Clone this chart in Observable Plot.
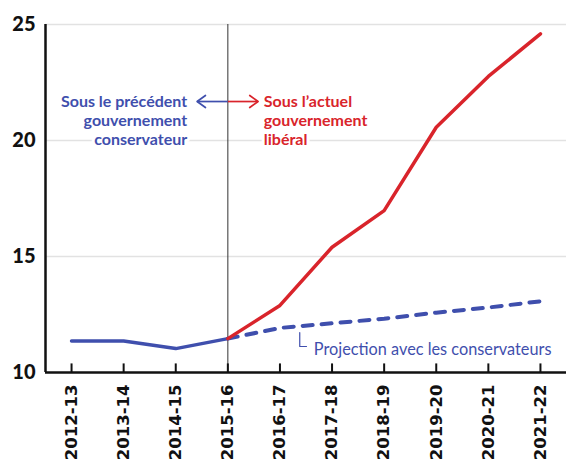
<!DOCTYPE html>
<html>
<head>
<meta charset="utf-8">
<script src="https://cdn.jsdelivr.net/npm/d3@7"></script>
<script src="https://cdn.jsdelivr.net/npm/@observablehq/plot@0.6"></script>
<style>
  html, body { margin: 0; padding: 0; background: #fff; }
  #chart { width: 566px; height: 466px; }
</style>
</head>
<body>
<div id="chart"></div>
<script>
// Categories (fiscal years)
const years = ["2012-13","2013-14","2014-15","2015-16","2016-17","2017-18","2018-19","2019-20","2020-21","2021-22"];
// Previous conservative government (actual), years 0..3
const conservativeIdx = [0, 1, 2, 3];
const conservativeValues = [11.36, 11.36, 11.03, 11.46];
// Current liberal government, years 3..9
const liberalIdx = [3, 4, 5, 6, 7, 8, 9];
const liberalValues = [11.46, 12.89, 15.4, 16.98, 20.57, 22.76, 24.6];
// Projection with conservatives, years 3..9
const projectionIdx = [3, 4, 5, 6, 7, 8, 9];
const projectionValues = [11.46, 11.92, 12.12, 12.32, 12.58, 12.8, 13.07];
// Y tick labels
const yTicks = [10, 15, 20, 25];
const gridTicks = [15, 20, 25];
// Annotation texts
const blueLines = ["Sous le précédent", "gouvernement", "conservateur"];
const redLines = ["Sous l\u2019actuel", "gouvernement", "libéral"];
const projLabel = "Projection avec les conservateurs";

const BLUE = "#3f4fad";
const RED = "#d9242b";

const cons = conservativeIdx.map((x, i) => ({x, y: conservativeValues[i]}));
const lib = liberalIdx.map((x, i) => ({x, y: liberalValues[i]}));
const proj = projectionIdx.map((x, i) => ({x, y: projectionValues[i]}));

// annotation anchors (data units)
const annY = [21.68, 20.86, 20.04];
const blueText = blueLines.map((t, i) => ({x: 2.22, y: annY[i], t}));
const redText = redLines.map((t, i) => ({x: 3.69, y: annY[i], t}));
const bracket = [{x: 4.38, y: 11.72}, {x: 4.38, y: 11.12}, {x: 4.51, y: 11.12}];
// arrow shafts and chevron heads (data units)
const blueShaft = [{x1: 3, x2: 2.41, y: 21.68}];
const redShaft = [{x1: 3, x2: 3.58, y: 21.68}];
const blueHead = [{x: 2.57, y: 21.94}, {x: 2.41, y: 21.68}, {x: 2.57, y: 21.42}];
const redHead = [{x: 3.42, y: 21.94}, {x: 3.58, y: 21.68}, {x: 3.42, y: 21.42}];

const chart = Plot.plot({
  width: 566,
  height: 466,
  marginLeft: 45,
  marginRight: 0,
  marginTop: 24,
  marginBottom: 94,
  style: {fontFamily: "Lato, 'Liberation Sans', sans-serif", background: "#fff"},
  x: {type: "linear", domain: [-0.5, 9.5]},
  y: {domain: [10, 25]},
  marks: [
    Plot.ruleY(gridTicks, {stroke: "#e2e2e2", strokeWidth: 1.5}),
    Plot.ruleX([3], {y1: 10, y2: 25, stroke: "#333", strokeWidth: 1}),
    // x tick marks pointing upward
    Plot.ruleX(d3.range(years.length), {y1: 10, y2: 10.37, stroke: "#111", strokeWidth: 2}),
    Plot.axisX({
      ticks: d3.range(years.length),
      tickFormat: i => years[i],
      tickSize: 0,
      tickPadding: 12,
      tickRotate: -90,
      fontSize: 16.5,
      fontWeight: "bold",
      fontFamily: "'DejaVu Sans', sans-serif",
      fill: "#111",
      label: null
    }),
    Plot.axisY({
      ticks: yTicks,
      tickSize: 0,
      tickPadding: 10,
      fontSize: 20,
      fontWeight: 900,
      fontFamily: "Lato, 'Liberation Sans', Arial, sans-serif",
      fill: "#111",
      label: null
    }),
    Plot.ruleX([-0.5], {y1: 10, y2: 25, stroke: "#111", strokeWidth: 2.5}),
    Plot.ruleY([10], {stroke: "#111", strokeWidth: 2.5}),
    // lines
    Plot.line(proj, {x: "x", y: "y", stroke: BLUE, strokeWidth: 4, strokeDasharray: "10,9", strokeLinecap: "round"}),
    Plot.line(cons, {x: "x", y: "y", stroke: BLUE, strokeWidth: 3.5}),
    Plot.line(lib, {x: "x", y: "y", stroke: RED, strokeWidth: 3.5}),
    // arrows
    Plot.link(blueShaft, {x1: "x1", x2: "x2", y1: "y", y2: "y", stroke: BLUE, strokeWidth: 1.7}),
    Plot.link(redShaft, {x1: "x1", x2: "x2", y1: "y", y2: "y", stroke: RED, strokeWidth: 1.7}),
    Plot.line(blueHead, {x: "x", y: "y", stroke: BLUE, strokeWidth: 1.7}),
    Plot.line(redHead, {x: "x", y: "y", stroke: RED, strokeWidth: 1.7}),
    // annotations
    Plot.text(blueText, {x: "x", y: "y", text: "t", textAnchor: "end", fill: BLUE, fontWeight: "bold", fontSize: 16, stroke: "white", strokeWidth: 6}),
    Plot.text(redText, {x: "x", y: "y", text: "t", textAnchor: "start", fill: RED, fontWeight: "bold", fontSize: 16, stroke: "white", strokeWidth: 6}),
    Plot.line(bracket, {x: "x", y: "y", stroke: BLUE, strokeWidth: 1.2}),
    Plot.text([{x: 4.65, y: 10.99, t: projLabel}], {x: "x", y: "y", text: "t", textAnchor: "start", fill: BLUE, fontSize: 16.3})
  ]
});
document.getElementById("chart").appendChild(chart);
</script>
</body>
</html>
